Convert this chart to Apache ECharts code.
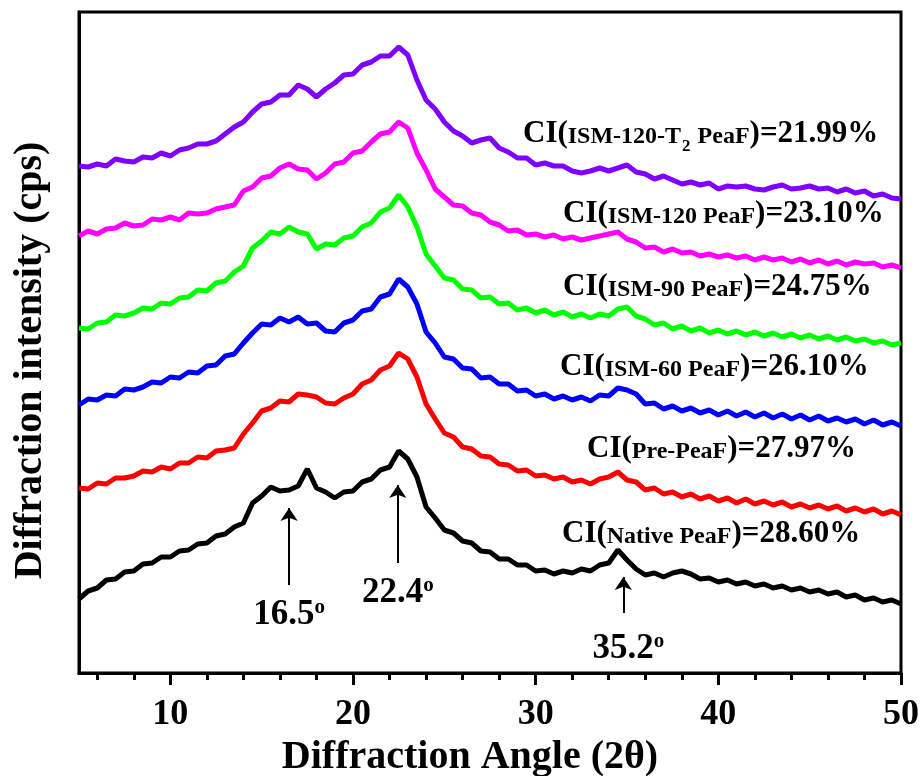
<!DOCTYPE html>
<html>
<head>
<meta charset="utf-8">
<script src="https://cdn.jsdelivr.net/npm/echarts@6/dist/echarts.min.js"></script>
<style>
  html, body { margin: 0; padding: 0; background: #fff; }
  #chart { width: 921px; height: 776px; }
</style>
</head>
<body>
<div id="chart"></div>
<script>
// 2theta sampling (every 0.5 degree)
const angles = [5, 5.5, 6, 6.5, 7, 7.5, 8, 8.5, 9, 9.5, 10, 10.5, 11, 11.5, 12, 12.5, 13, 13.5, 14, 14.5,
  15, 15.5, 16, 16.5, 17, 17.5, 18, 18.5, 19, 19.5, 20, 20.5, 21, 21.5, 22, 22.5, 23, 23.5, 24, 24.5,
  25, 25.5, 26, 26.5, 27, 27.5, 28, 28.5, 29, 29.5, 30, 30.5, 31, 31.5, 32, 32.5, 33, 33.5, 34, 34.5,
  35, 35.5, 36, 36.5, 37, 37.5, 38, 38.5, 39, 39.5, 40, 40.5, 41, 41.5, 42, 42.5, 43, 43.5, 44, 44.5,
  45, 45.5, 46, 46.5, 47, 47.5, 48, 48.5, 49, 49.5, 50];

// stacked (offset) intensities, arbitrary units
const ism120t2 = [507, 506, 509, 507, 514, 512, 511, 516, 515, 520, 517, 523, 525, 529, 529, 532, 539, 546, 551, 561,
  569, 571, 578, 578, 588, 584, 576, 584, 590, 598, 599, 608, 611, 617, 617, 626, 618, 593, 573, 564,
  551, 542, 537, 530, 533, 535, 525, 521, 515, 515, 508, 510, 507, 507, 502, 500, 502, 505, 502, 505,
  508, 501, 499, 494, 497, 493, 489, 491, 488, 490, 484, 487, 486, 487, 484, 483, 486, 488, 484, 485,
  487, 484, 485, 481, 484, 480, 482, 477, 479, 475, 474];
const ism120 = [437, 442, 439, 444, 445, 450, 447, 448, 454, 453, 456, 453, 460, 459, 460, 464, 466, 468, 482, 486,
  495, 497, 505, 509, 504, 503, 494, 500, 509, 511, 520, 522, 531, 539, 541, 551, 545, 520, 503, 484,
  476, 468, 467, 460, 458, 451, 448, 442, 443, 438, 439, 436, 438, 434, 436, 433, 435, 437, 439, 441,
  434, 431, 425, 426, 421, 424, 420, 421, 417, 419, 416, 418, 415, 417, 413, 416, 413, 415, 411, 414,
  410, 413, 409, 412, 408, 411, 409, 410, 406, 408, 405];
const ism90 = [345, 344, 350, 351, 358, 357, 360, 365, 364, 370, 369, 375, 376, 383, 382, 390, 392, 401, 407, 425,
  432, 441, 439, 446, 441, 439, 424, 429, 428, 435, 437, 446, 450, 461, 465, 478, 466, 446, 419, 407,
  395, 393, 384, 383, 375, 376, 369, 370, 363, 365, 360, 363, 358, 361, 356, 359, 355, 359, 357, 364,
  366, 357, 354, 348, 350, 344, 347, 342, 345, 340, 343, 339, 342, 338, 341, 337, 340, 336, 339, 335,
  338, 334, 337, 333, 336, 332, 334, 330, 332, 328, 330];
const ism60 = [268, 274, 273, 278, 277, 284, 283, 286, 291, 290, 296, 295, 301, 300, 307, 308, 317, 319, 330, 340,
  349, 348, 355, 351, 356, 349, 350, 342, 341, 350, 353, 362, 364, 376, 379, 394, 386, 369, 341, 330,
  316, 314, 305, 304, 295, 296, 289, 289, 282, 283, 277, 279, 274, 277, 273, 276, 272, 278, 277, 285,
  283, 279, 269, 270, 264, 267, 262, 265, 260, 263, 258, 262, 257, 261, 256, 260, 255, 259, 254, 258,
  253, 257, 252, 255, 251, 254, 249, 253, 248, 251, 247];
const pre = [185, 184, 190, 189, 195, 195, 197, 202, 201, 206, 204, 210, 210, 216, 215, 222, 223, 225, 239, 250,
  262, 265, 272, 271, 279, 278, 276, 270, 269, 275, 279, 289, 293, 303, 307, 320, 314, 296, 269, 254,
  240, 236, 226, 224, 217, 216, 209, 208, 202, 203, 197, 198, 194, 196, 191, 193, 189, 194, 196, 201,
  193, 191, 183, 185, 179, 181, 176, 179, 174, 177, 172, 175, 170, 174, 169, 172, 168, 171, 166, 169,
  165, 168, 164, 167, 162, 165, 161, 164, 159, 162, 158];
const native = [74, 82, 85, 93, 94, 101, 102, 109, 110, 116, 116, 122, 123, 129, 130, 137, 139, 146, 150, 170,
  177, 186, 182, 183, 187, 204, 185, 181, 175, 181, 182, 191, 194, 203, 206, 222, 214, 196, 166, 155,
  143, 140, 132, 130, 122, 121, 114, 114, 108, 108, 102, 103, 99, 102, 100, 104, 102, 108, 110, 123,
  113, 104, 98, 100, 96, 100, 102, 99, 94, 95, 91, 93, 89, 91, 87, 89, 85, 87, 83, 85,
  81, 83, 79, 81, 76, 78, 73, 75, 71, 73, 69];

const majorTicks = [10, 20, 30, 40, 50];
const minorTicks = [6, 8, 12, 14, 16, 18, 22, 24, 26, 28, 32, 34, 36, 38, 42, 44, 46, 48];

// peak arrows: where the arrow stands, its two ends, and the text
const arrowAt = [16.5, 22.45, 34.8];
const arrowFrom = [88, 110, 60];
const arrowTo = [165, 188, 96];
const arrowText = ['16.5', '22.4', '35.2'];

const serif = "'Liberation Serif', 'Times New Roman', serif";

const myChart = echarts.init(document.getElementById('chart'));

const pairs = (ys) => angles.map((a, i) => [a, ys[i]]);

const curves = [
  { name: 'ISM-120-T2 PeaF', color: '#7F00FF', ys: ism120t2 },
  { name: 'ISM-120 PeaF', color: '#FF00FF', ys: ism120 },
  { name: 'ISM-90 PeaF', color: '#00FF00', ys: ism90 },
  { name: 'ISM-60 PeaF', color: '#0000FF', ys: ism60 },
  { name: 'Pre-PeaF', color: '#FF0000', ys: pre },
  { name: 'Native PeaF', color: '#000000', ys: native }
];

const arrowLines = arrowAt.map((a, i) => [
  {
    coord: [a, arrowFrom[i]],
    label: {
      show: true,
      position: 'start',
      distance: i === 2 ? 18 : 12,
      offset: i === 2 ? [5, 0] : [0, 0],
      formatter: '{n|' + arrowText[i] + '}{o|o}',
      rich: {
        n: { fontFamily: serif, fontWeight: 'bold', fontSize: 35, color: '#000' },
        o: { fontFamily: serif, fontWeight: 'bold', fontSize: 21, color: '#000', verticalAlign: 'top' }
      }
    }
  },
  { coord: [a, arrowTo[i]] }
]);

const series = curves.map((c) => ({
  name: c.name,
  type: 'line',
  data: pairs(c.ys),
  showSymbol: false,
  lineStyle: { color: c.color, width: 5 },
  itemStyle: { color: c.color },
  silent: true
}));

series[5].markLine = {
  silent: true,
  symbol: ['none', 'arrow'],
  symbolSize: 13,
  lineStyle: { color: '#000', width: 2, type: 'solid' },
  data: arrowLines
};

const big = { fontFamily: serif, fontWeight: 'bold', fontSize: 31, color: '#000', verticalAlign: 'bottom', padding: [0, 0, 6, 0] };
const small = { fontFamily: serif, fontWeight: 'bold', fontSize: 24, color: '#000', verticalAlign: 'bottom', padding: [0, 0, 7, 0] };
const sub = { fontFamily: serif, fontWeight: 'bold', fontSize: 17, color: '#000', verticalAlign: 'bottom', padding: [0, 1, 0, 1] };

const ciLabel = (x, y, text) => ({
  type: 'text',
  x: x,
  y: y,
  style: {
    text: text,
    rich: { b: big, s: small, u: sub },
    textAlign: 'left',
    textVerticalAlign: 'middle'
  },
  silent: true
});

const option = {
  backgroundColor: '#fff',
  animation: false,
  grid: {
    left: 79, right: 20, top: 12, bottom: 103,
    outerBoundsMode: 'none',
    containLabel: false,
    show: true,
    borderColor: '#000',
    borderWidth: 3,
    backgroundColor: 'transparent'
  },
  xAxis: [
    {
      type: 'value',
      min: 5,
      max: 50,
      name: 'Diffraction Angle (2θ)',
      nameLocation: 'middle',
      nameGap: 64,
      nameTextStyle: { fontFamily: serif, fontWeight: 'bold', fontSize: 40, color: '#000', padding: [0, 40, 0, 0] },
      axisLine: { show: true, onZero: false, lineStyle: { color: '#000', width: 3 } },
      axisTick: { show: true, customValues: majorTicks, length: 12, lineStyle: { color: '#000', width: 3 } },
      axisLabel: { customValues: majorTicks, margin: 24, fontFamily: serif, fontWeight: 'bold', fontSize: 36, color: '#000' },
      splitLine: { show: false }
    },
    {
      type: 'value',
      min: 5,
      max: 50,
      position: 'bottom',
      axisLine: { show: false },
      axisTick: { show: true, customValues: minorTicks, length: 7, lineStyle: { color: '#000', width: 3 } },
      axisLabel: { show: false },
      splitLine: { show: false }
    }
  ],
  yAxis: {
    type: 'value',
    min: 0,
    max: 661,
    name: 'Diffraction intensity (cps)',
    nameLocation: 'middle',
    nameGap: 28,
    nameRotate: 90,
    nameTextStyle: { fontFamily: serif, fontWeight: 'bold', fontSize: 40, color: '#000', padding: [0, 36, 0, 0] },
    axisLine: { show: true, lineStyle: { color: '#000', width: 3 } },
    axisTick: { show: false },
    axisLabel: { show: false },
    splitLine: { show: false }
  },
  series: series,
  graphic: [
    ciLabel(523, 137, '{b|CI(}{s|ISM-120-T}{u|2}{s| PeaF}{b|)=21.99%}'),
    ciLabel(563, 217, '{b|CI(}{s|ISM-120 PeaF}{b|)=23.10%}'),
    ciLabel(563, 290, '{b|CI(}{s|ISM-90 PeaF}{b|)=24.75%}'),
    ciLabel(560, 370, '{b|CI(}{s|ISM-60 PeaF}{b|)=26.10%}'),
    ciLabel(587, 452, '{b|CI(}{s|Pre-PeaF}{b|)=27.97%}'),
    ciLabel(562, 537, '{b|CI(}{s|Native PeaF}{b|)=28.60%}')
  ]
};

option && myChart.setOption(option);
</script>
</body>
</html>
